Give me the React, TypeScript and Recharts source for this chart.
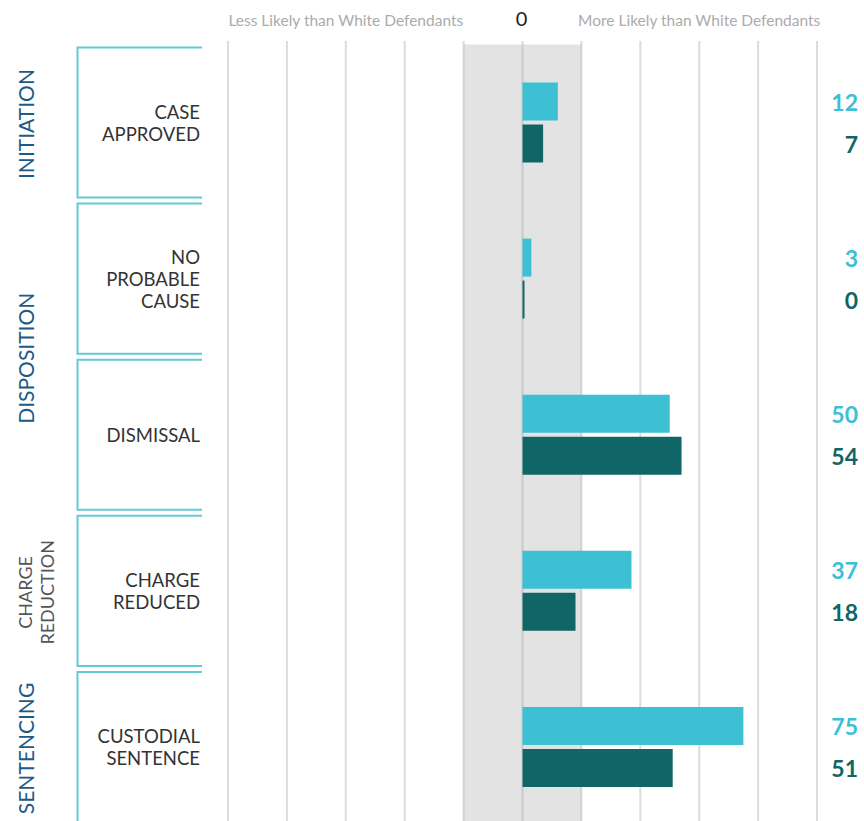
import React from 'react';
import {
  BarChart,
  Bar,
  XAxis,
  YAxis,
  CartesianGrid,
  ReferenceArea,
  LabelList,
} from 'recharts';

// ---- data ----
const categories = ['CASE APPROVED', 'NO PROBABLE CAUSE', 'DISMISSAL', 'CHARGE REDUCED', 'CUSTODIAL SENTENCE'];
const categoryLines = [
  ['CASE', 'APPROVED'],
  ['NO', 'PROBABLE', 'CAUSE'],
  ['DISMISSAL'],
  ['CHARGE', 'REDUCED'],
  ['CUSTODIAL', 'SENTENCE'],
];
const seriesLight = [12, 3, 50, 37, 75];
const seriesDark = [7, 0, 54, 18, 51];

const groupLabels = [['INITIATION'], ['DISPOSITION'], ['CHARGE', 'REDUCTION'], ['SENTENCING']];
const groupRowCounts = [1, 2, 1, 1];
const groupMuted = [false, false, true, false];

const gridTicks = [-100, -80, -60, -40, -20, 0, 20, 40, 60, 80, 100];
const headerTicks = [-60, 0, 60];
const headerLabels = ['Less Likely than White Defendants', '0', 'More Likely than White Defendants'];
const neutralBand = [-20, 20];

// ---- derived ----
const data = categories.map((name, i) => ({
  name,
  light: seriesLight[i],
  dark: seriesDark[i],
}));

const groupStartRow: number[] = [];
{
  let acc = 0;
  groupRowCounts.forEach((c) => {
    groupStartRow.push(acc);
    acc += c;
  });
}

// ---- layout / style constants ----
const W = 864;
const H = 825;
const HEADER_H = 41;
const PAD_TOP = 3.5;
const N = categories.length;
const BAND = (H - HEADER_H - PAD_TOP) / N;
const BOX_HALF = BAND / 2 - 3;
const BOX_LEFT = 77.5;
const BOX_RIGHT = 202;
const FONT = 'Lato, "Noto Sans", sans-serif';
const LIGHT = '#3dc0d4';
const DARK = '#106566';
const BLUE = '#1d5a87';

const CatTick = (props: any) => {
  const { y, payload } = props;
  const idx = categories.indexOf(payload.value);
  const lines = categoryLines[idx] || [payload.value];
  const lh = 22;
  const gi = groupStartRow.indexOf(idx);
  let groupEl = null;
  if (gi >= 0) {
    const gy = y + ((groupRowCounts[gi] - 1) / 2) * BAND + 1.5;
    const muted = groupMuted[gi];
    groupEl = groupLabels[gi].map((l, i) => (
      <text
        key={'g' + i}
        transform={`translate(${25 + i * 22},${gy}) rotate(-90)`}
        textAnchor="middle"
        dominantBaseline="central"
        fontFamily={FONT}
        fontSize={muted ? 18 : 21}
        fill={muted ? '#555' : BLUE}
      >
        {l}
      </text>
    ));
  }
  return (
    <g>
      {groupEl}
      <path
        d={`M${BOX_RIGHT},${y - BOX_HALF} H${BOX_LEFT} V${y + BOX_HALF} H${BOX_RIGHT}`}
        fill="none"
        stroke="#63c9d7"
        strokeWidth={2}
      />
      <text x={200} y={y} textAnchor="end" fontFamily={FONT} fontSize={18.5} fill="#333">
        {lines.map((l, i) => (
          <tspan key={i} x={200} y={y + (i - (lines.length - 1) / 2) * lh} dominantBaseline="central">
            {l}
          </tspan>
        ))}
      </text>
    </g>
  );
};

const HeaderTick = (props: any) => {
  const { x, payload } = props;
  const i = headerTicks.indexOf(payload.value);
  if (i < 0) return null;
  const isZero = payload.value === 0;
  return (
    <text
      x={isZero ? x - 1 : x}
      y={26}
      textAnchor="middle"
      fontFamily={FONT}
      fontSize={isZero ? 20 : 15.5}
      fill={isZero ? '#222' : '#ababab'}
    >
      {headerLabels[i]}
    </text>
  );
};

const makeValueLabel = (color: string) => (props: any) => {
  const { y, height, value } = props;
  return (
    <text
      x={858}
      y={y + height / 2}
      textAnchor="end"
      dominantBaseline="central"
      fontFamily={FONT}
      fontWeight={700}
      fontSize={23}
      fill={color}
    >
      {value}
    </text>
  );
};

export default function App() {
  return (
    <div style={{ position: 'absolute', left: 0, top: 0, width: W, height: 821, overflow: 'hidden', background: '#fff' }}>
      <BarChart
        width={W}
        height={H}
        data={data}
        layout="vertical"
        margin={{ top: 0, right: 47, bottom: 0, left: 0 }}
        barSize={38}
        barGap={4}
      >
        <XAxis xAxisId="grid" type="number" domain={[-100, 100]} allowDataOverflow ticks={gridTicks} hide />
        <XAxis
          xAxisId="head"
          type="number"
          orientation="top"
          domain={[-100, 100]}
          allowDataOverflow
          ticks={headerTicks}
          height={HEADER_H}
          axisLine={false}
          tickLine={false}
          tick={<HeaderTick />}
          interval={0}
        />
        <YAxis
          yAxisId="cat"
          type="category"
          dataKey="name"
          width={228}
          axisLine={false}
          tickLine={false}
          padding={{ top: PAD_TOP, bottom: 0 }}
          tick={<CatTick />}
          interval={0}
        />
        <CartesianGrid xAxisId="grid" yAxisId="cat" horizontal={false} stroke="#dcdcdc" strokeWidth={2} />
        <ReferenceArea
          xAxisId="grid"
          yAxisId="cat"
          x1={neutralBand[0]}
          x2={neutralBand[1]}
          fill="#9a9a9a"
          fillOpacity={0.28}
          stroke="none"
        />
        <Bar dataKey="light" xAxisId="grid" yAxisId="cat" fill={LIGHT} isAnimationActive={false} minPointSize={2}>
          <LabelList dataKey="light" content={makeValueLabel(LIGHT)} />
        </Bar>
        <Bar dataKey="dark" xAxisId="grid" yAxisId="cat" fill={DARK} isAnimationActive={false} minPointSize={2}>
          <LabelList dataKey="dark" content={makeValueLabel(DARK)} />
        </Bar>
      </BarChart>
    </div>
  );
}
